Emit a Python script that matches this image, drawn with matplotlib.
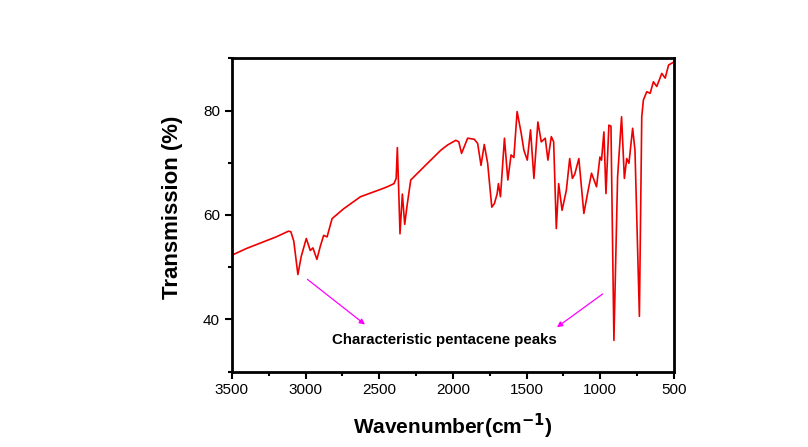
import numpy as np
from matplotlib import pyplot as plt
from matplotlib.ticker import MultipleLocator

plt.rcParams['font.family'] = ['Liberation Sans', 'DejaVu Sans']

# values
wavenumber = [3500, 3400, 3309, 3200, 3116, 3100, 3080, 3052, 3030, 2995,
              2968, 2950, 2923, 2900, 2877, 2854, 2820, 2741, 2627, 2491,
              2445, 2400, 2385, 2377, 2368, 2359, 2343, 2327, 2310, 2286,
              2172, 2082, 2036, 1980, 1960, 1941, 1900, 1855, 1832, 1809,
              1787, 1764, 1736, 1718, 1700, 1691, 1677, 1650, 1627, 1605,
              1586, 1564, 1536, 1518, 1495, 1473, 1450, 1423, 1400, 1373,
              1355, 1332, 1316, 1298, 1282, 1259, 1230, 1207, 1189, 1173,
              1145, 1111, 1082, 1059, 1025, 1002, 991, 975, 961, 941,
              927, 907, 882, 855, 836, 820, 805, 780, 764, 734,
              718, 707, 684, 661, 639, 616, 582, 559, 536, 500]
transmission = [52.3, 53.6, 54.6, 55.8, 56.9, 56.8, 55.0, 48.6, 52.0, 55.5,
                53.2, 53.7, 51.5, 54.0, 56.1, 55.8, 59.3, 61.2, 63.5, 64.9,
                65.4, 66.0, 67.0, 72.9, 65.0, 56.4, 64.0, 58.2, 62.0, 66.7,
                69.9, 72.4, 73.4, 74.3, 74.0, 71.8, 74.7, 74.5, 73.7, 69.5,
                73.5, 69.9, 61.5, 62.2, 64.0, 66.0, 63.5, 74.7, 66.7, 71.5,
                71.0, 79.8, 75.6, 72.4, 70.5, 76.3, 67.0, 77.8, 74.0, 74.7,
                70.5, 75.0, 74.0, 57.4, 66.0, 60.9, 64.7, 70.8, 67.0, 67.8,
                70.8, 60.3, 64.7, 68.0, 65.4, 71.1, 70.5, 75.9, 64.1, 77.2,
                77.0, 36.0, 67.3, 78.8, 67.0, 70.8, 69.9, 76.6, 72.4, 40.6,
                78.8, 82.0, 83.6, 83.3, 85.5, 84.6, 87.1, 86.2, 88.7, 89.3]

x_ticks = [3500, 3000, 2500, 2000, 1500, 1000, 500]
y_ticks = [40, 60, 80]

fig = plt.figure(figsize=(8.08, 4.47), dpi=100)
ax = fig.add_axes([0.287, 0.1685, 0.547, 0.7011])

ax.plot(wavenumber, transmission, color='#ee0000', linewidth=1.2)

ax.set_xlim(3500, 500)
ax.set_ylim(30, 90)
ax.set_xticks(x_ticks)
ax.set_yticks(y_ticks)
ax.xaxis.set_minor_locator(MultipleLocator(250))
ax.yaxis.set_minor_locator(MultipleLocator(10))
ax.tick_params(which='both', direction='out', width=1.5, labelsize=11)
ax.tick_params(which='major', length=5)
ax.tick_params(which='minor', length=3)
for s in ax.spines.values():
    s.set_linewidth(2)

ax.set_xlabel('Wavenumber(cm$^{\\mathbf{-1}}$)', fontsize=15, fontweight='bold', labelpad=10)
ax.set_ylabel('Transmission (%)', fontsize=16, fontweight='bold')
ax.yaxis.set_label_coords(-0.11, 0.525)

ax.text(2061, 36, 'Characteristic pentacene peaks', fontsize=10.8, fontweight='bold',
        ha='center', va='center')
ax.annotate('', xy=(2582, 38.7), xytext=(3002, 48.0),
            arrowprops=dict(arrowstyle='-|>', color='#ff00ff', lw=0.9, mutation_scale=8))
ax.annotate('', xy=(1309, 38.2), xytext=(968, 45.2),
            arrowprops=dict(arrowstyle='-|>', color='#ff00ff', lw=0.9, mutation_scale=8))

plt.savefig('out.png', dpi=100)
